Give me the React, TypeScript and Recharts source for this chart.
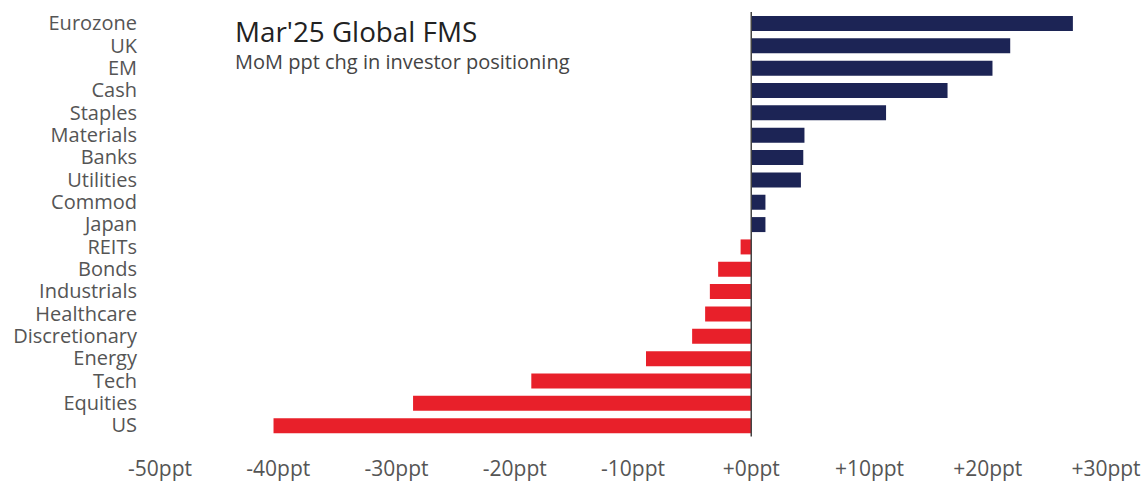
import React from 'react';
import { BarChart, Bar, XAxis, YAxis, Cell, ReferenceLine } from 'recharts';

const categories = ['Eurozone','UK','EM','Cash','Staples','Materials','Banks','Utilities','Commod','Japan','REITs','Bonds','Industrials','Healthcare','Discretionary','Energy','Tech','Equities','US'];
const values = [27.2, 21.9, 20.4, 16.6, 11.4, 4.5, 4.4, 4.2, 1.2, 1.2, -0.9, -2.8, -3.5, -3.9, -5.0, -8.9, -18.6, -28.6, -40.4];
const xTicks = [-50, -40, -30, -20, -10, 0, 10, 20, 30];
const title = "Mar'25 Global FMS";
const subtitle = 'MoM ppt chg in investor positioning';

const data = categories.map((name, i) => ({ name, value: values[i] }));

const FONT = '"Open Sans", sans-serif';

export default function App() {
  return (
    <div style={{ position: 'absolute', left: 0, top: 0, width: 1144, height: 484, background: '#fff' }}>
      <BarChart
        width={1144}
        height={484}
        data={data}
        layout="vertical"
        margin={{ top: 12, right: 38, left: 0, bottom: 17.5 }}
        barCategoryGap={0}
      >
        <XAxis
          type="number"
          domain={[-50, 30]}
          ticks={xTicks}
          axisLine={false}
          tickLine={false}
          tickSize={0}
          tickMargin={25}
          height={30}
          interval={0}
          tick={{ fill: '#555', fontSize: 21, fontFamily: FONT }}
          tickFormatter={(v: number) => (v >= 0 ? `+${v}ppt` : `${v}ppt`)}
        />
        <YAxis
          type="category"
          dataKey="name"
          width={160}
          axisLine={false}
          tickLine={false}
          tickSize={0}
          tickMargin={23}
          interval={0}
          tick={{ fill: '#555', fontSize: 20, fontFamily: FONT }}
        />
        <Bar dataKey="value" barSize={15} isAnimationActive={false}>
          {data.map((d, i) => (
            <Cell key={i} fill={d.value >= 0 ? '#1c2455' : '#e8202a'} />
          ))}
        </Bar>
        <ReferenceLine x={0} stroke="#444" strokeWidth={1.5} />
        <text x={235} y={42} fontSize={27.8} fontFamily={FONT} fill="#222">{title}</text>
        <text x={235} y={68.5} fontSize={20} fontFamily={FONT} fill="#444">{subtitle}</text>
      </BarChart>
    </div>
  );
}
